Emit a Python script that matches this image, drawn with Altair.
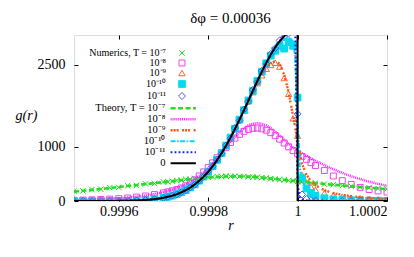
import altair as alt
import pandas as pd

# ---------------- data ----------------
R_NUM = [0.9995, 0.99952, 0.99954, 0.99956, 0.99958, 0.9996, 0.99962, 0.99964, 0.99966, 0.99968, 0.9997,
         0.99971, 0.99972, 0.99973, 0.99974, 0.99975, 0.99976, 0.99977, 0.99978, 0.99979, 0.9998,
         0.99981, 0.99982, 0.99983, 0.99984, 0.99985, 0.99986, 0.99987, 0.99988, 0.99989, 0.9999,
         0.99991, 0.99992, 0.99993, 0.99994, 0.99995, 0.99996, 0.99997, 0.99998, 0.99999,
         1.0,
         1.00001, 1.00002, 1.00003, 1.00004, 1.00006, 1.00008, 1.0001, 1.00012, 1.00014, 1.00016, 1.00018, 1.0002]

NUM_T7 = [180, 185, 210, 215, 245, 250, 280, 285, 315, 320, 350,
          352, 362, 378, 382, 398, 400, 415, 420, 432, 438, 440, 452, 450, 458, 452, 455, 450, 452, 442,
          440, 436, 428, 424, 410, 405, 392, 390, 376, 372,
          358,
          352, 348, 335, 330, 310, 300, 282, 272, 255, 246, 230, 222]
NUM_T8 = [14, 18, 22, 28, 35, 44, 56, 72, 92, 118, 150,
          168, 188, 210, 240, 280, 330, 390, 460, 535, 615, 700, 795, 890, 985, 1075, 1155, 1225, 1280, 1315,
          1335, 1340, 1325, 1300, 1255, 1200, 1135, 1065, 995, 925,
          870,
          820, 765, 705, 650, 560, 460, 375, 305, 250, 210, 185, 165]
NUM_T9 = [0, 0, 0, 1, 2, 4, 7, 12, 20, 36, 61,
          79, 100, 127, 161, 202, 250, 308, 376, 452, 540, 642, 756, 880, 1018, 1165, 1325, 1490, 1660, 1835,
          2000, 2165, 2310, 2430, 2500, 2540, 2470, 2260, 1970, 1520,
          1200,
          480, 340, 260, 205, 145, 105, 80, 62, 48, 38, 30, 24]
NUM_T10 = [0, 0, 0, 1, 2, 4, 6, 11, 19, 35, 60,
           78, 99, 126, 160, 200, 248, 306, 373, 450, 538, 640, 755, 880, 1018, 1166, 1328, 1495, 1668, 1848,
           2026, 2205, 2375, 2530, 2670, 2760, 2850, 2800, 2920, 2850,
           1900,
           420, 230, 140, 95, 50, 30, 20, 14, 10, 7, 5, 4]
NUM_T11 = [0, 0, 0, 0, 1, 3, 6, 11, 18, 33, 57,
           75, 100, 122, 160, 195, 250, 300, 375, 445, 540, 630, 760, 870, 1020, 1150, 1340, 1480, 1680, 1830,
           2040, 2190, 2390, 2520, 2700, 2810, 2950, 3010, 3080, 3120,
           1600,
           120, 35, 15, 8, 4, 2, 1, 1, 0, 0, 0, 0]

R_LINE = [0.9995, 0.99951, 0.99952, 0.99953, 0.99954, 0.99955, 0.99956, 0.99957, 0.99958, 0.99959,
          0.9996, 0.99961, 0.99962, 0.99963, 0.99964, 0.99965, 0.99966, 0.99967, 0.99968, 0.99969,
          0.9997, 0.99971, 0.99972, 0.99973, 0.99974, 0.99975, 0.99976, 0.99977, 0.99978, 0.99979,
          0.9998, 0.99981, 0.99982, 0.99983, 0.99984, 0.99985, 0.99986, 0.99987, 0.99988, 0.99989,
          0.9999, 0.99991, 0.99992, 0.99993, 0.99994, 0.99995, 0.99996, 0.99997, 0.99998, 0.99999,
          0.999995, 1.0, 1.0, 1.000005,
          1.00001, 1.00002, 1.00003, 1.00004, 1.00005, 1.00006, 1.00007, 1.00008, 1.00009, 1.0001,
          1.00011, 1.00012, 1.00013, 1.00014, 1.00015, 1.00016, 1.00017, 1.00018, 1.00019, 1.0002]

TH_T7 = [172, 180, 188, 196, 204, 212, 221, 230, 239, 248,
         257, 266, 275, 284, 293, 302, 311, 320, 329, 338,
         347, 356, 365, 374, 383, 392, 401, 409, 417, 424,
         431, 437, 442, 446, 449, 451, 452, 452, 450, 448,
         444, 438, 431, 422, 414, 405, 396, 387, 378, 369,
         365, 361, 361, 357,
         353, 345, 337, 329, 321, 313, 306, 299, 292, 285,
         278, 271, 264, 257, 250, 244, 238, 232, 226, 220]
TH_T8 = [16, 18, 20, 22, 25, 28, 31, 35, 39, 44,
         49, 55, 62, 70, 79, 89, 100, 113, 128, 145,
         164, 186, 210, 238, 270, 305, 345, 395, 455, 525,
         605, 690, 785, 885, 985, 1085, 1180, 1265, 1335, 1390,
         1420, 1430, 1420, 1390, 1340, 1275, 1200, 1125, 1050, 980,
         950, 925, 925, 900,
         875, 830, 785, 740, 700, 660, 620, 585, 550, 515,
         485, 455, 428, 402, 378, 355, 335, 315, 297, 280]
TH_T9 = [0, 0, 0, 0, 0, 1, 1, 2, 2, 3,
         4, 5, 7, 9, 12, 16, 21, 28, 37, 48,
         62, 80, 101, 128, 161, 202, 249, 307, 374, 451,
         539, 640, 754, 879, 1016, 1163, 1322, 1488, 1658, 1833,
         2010, 2175, 2330, 2450, 2530, 2570, 2520, 2320, 2000, 1560,
         1330, 1100, 1100, 880,
         680, 480, 365, 290, 238, 200, 170, 146, 127, 111,
         98, 87, 78, 70, 63, 57, 51, 46, 42, 38]
TH_T10 = [0, 0, 0, 0, 0, 0, 0, 0, 1, 2,
          3, 4, 6, 8, 11, 15, 20, 26, 35, 46,
          60, 78, 99, 126, 159, 200, 247, 305, 372, 449,
          537, 639, 753, 879, 1017, 1165, 1326, 1494, 1667, 1846,
          2024, 2202, 2372, 2530, 2670, 2800, 2900, 2970, 3000, 2930,
          2650, 1500, 1500, 600,
          380, 220, 145, 100, 72, 54, 42, 33, 26, 21,
          17, 14, 11, 9, 8, 7, 6, 5, 4, 4]
TH_T11 = [0, 0, 0, 0, 0, 0, 0, 0, 0, 0,
          3, 4, 5, 7, 10, 14, 19, 25, 34, 45,
          59, 77, 98, 125, 158, 199, 246, 304, 371, 448,
          536, 638, 752, 878, 1016, 1164, 1325, 1493, 1667, 1846,
          2025, 2204, 2376, 2538, 2689, 2823, 2937, 3029, 3097, 3130,
          3100, 300, 300, 70,
          30, 10, 5, 3, 2, 1, 0, 0, 0, 0,
          0, 0, 0, 0, 0, 0, 0, 0, 0, 0]
TH_T0 = [0, 0, 0, 0, 0, 0, 0, 0, 0, 0,
         3, 4, 5, 7, 10, 14, 19, 25, 34, 45,
         59, 77, 98, 125, 158, 199, 246, 304, 371, 448,
         536, 638, 752, 878, 1016, 1164, 1325, 1493, 1667, 1846,
         2025, 2204, 2376, 2538, 2689, 2823, 2937, 3029, 3097, 3139,
         3146, 3150, 0, 0,
         0, 0, 0, 0, 0, 0, 0, 0, 0, 0,
         0, 0, 0, 0, 0, 0, 0, 0, 0, 0]

NUM_LABELS = ["Numerics, T = 10⁻⁷", "10⁻⁸", "10⁻⁹", "10⁻¹⁰", "10⁻¹¹"]
TH_LABELS = ["Theory, T = 10⁻⁷", "10⁻⁸", "10⁻⁹", "10⁻¹⁰", "10⁻¹¹", "0"]
X_TICKS = [0.9996, 0.9998, 1.0, 1.0002]
Y_TICKS = [0, 1000, 2500]

# ---------------- styles ----------------
NUM_STROKE = ["#22dd22", "#ee44ee", "#ff6633", "#00dcee", "#4d5cf0"]
NUM_FILL = ["transparent", "transparent", "transparent", "#00dcee", "transparent"]
NUM_SHAPE = ["M-1,-1L1,1M1,-1L-1,1", "square", "triangle-up", "square", "diamond"]
NUM_SIZE = [30, 50, 36, 16, 28]
TH_STROKE = ["#22dd22", "#ff22ff", "#ff5511", "#00dcee", "#1122ff", "black"]
TH_DASH = [[5, 2.5], [1, 0.9], [2, 1, 2, 1, 2, 3.5], [5, 1.5, 1.5, 1.5], [1.8, 2.2], [1, 0]]
TH_WIDTH = [2.6, 2.0, 2.2, 2.2, 2.2, 1.5]

F = "Liberation Serif"
W, H = 313, 166

num_rows = []
for lab, vals in zip(NUM_LABELS, [NUM_T7, NUM_T8, NUM_T9, NUM_T10, NUM_T11]):
    for r, g in zip(R_NUM, vals):
        num_rows.append({"r": r, "g": g, "series": lab})
df_num = pd.DataFrame(num_rows)

line_rows = []
for lab, vals in zip(TH_LABELS, [TH_T7, TH_T8, TH_T9, TH_T10, TH_T11, TH_T0]):
    for i, (r, g) in enumerate(zip(R_LINE, vals)):
        line_rows.append({"r": r, "g": g, "series": lab, "idx": i})
df_line = pd.DataFrame(line_rows)

xs = alt.Scale(domain=[0.9995, 1.0002], nice=False, zero=False)
ys = alt.Scale(domain=[0, 3050], nice=False, zero=False)

def tick_axis(orient, offset, values):
    return alt.Axis(orient=orient, offset=offset, values=values, labels=False, ticks=True,
                    tickSize=4, tickColor="black", tickWidth=1, domain=False, grid=False)

leg_num = alt.Legend(title=None, orient="none", legendX=103, legendY=13, labelAlign="right",
                     labelOffset={"expr": "-21"}, labelFont=F, labelFontSize=10, labelColor="black",
                     rowPadding=0, padding=0, symbolStrokeWidth=1, labelLimit=200)
leg_th = alt.Legend(title=None, orient="none", legendX=104, legendY=68, labelAlign="right",
                    labelOffset={"expr": "-23"}, labelFont=F, labelFontSize=10.5, labelColor="black",
                    rowPadding=0, padding=0, symbolType="M-8,0L8,0", symbolSize=10,
                    labelLimit=200)

points = alt.Chart(df_num).mark_point(clip=True, opacity=1, strokeWidth=1).encode(
    x=alt.X("r:Q", scale=xs, title="r",
            axis=alt.Axis(values=X_TICKS, format="~g", labelFont=F, labelFontSize=14, labelColor="black",
                          labelPadding=3, ticks=False, tickSize=0, domain=False, grid=False,
                          titleFont=F, titleFontSize=14, titleFontStyle="italic", titleFontWeight="normal",
                          titleColor="black", titleY=24, titleBaseline="middle")),
    y=alt.Y("g:Q", scale=ys, title="g(r)",
            axis=alt.Axis(values=Y_TICKS, format="d", labelFont=F, labelFontSize=14, labelColor="black",
                          labelPadding=9, ticks=False, tickSize=0, domain=False, grid=False,
                          titleFont=F, titleFontSize=14, titleFontStyle="italic", titleFontWeight="normal",
                          titleColor="black", titleAngle=0, titleX=-48, titleY=80,
                          titleAlign="center", titleBaseline="middle")),
    color=alt.Color("series:N", scale=alt.Scale(domain=NUM_LABELS, range=NUM_STROKE), legend=leg_num),
    fill=alt.Fill("series:N", scale=alt.Scale(domain=NUM_LABELS, range=NUM_FILL), legend=leg_num),
    shape=alt.Shape("series:N", scale=alt.Scale(domain=NUM_LABELS, range=NUM_SHAPE), legend=leg_num),
    size=alt.Size("series:N", scale=alt.Scale(domain=NUM_LABELS, range=NUM_SIZE), legend=leg_num),
)

lines = alt.Chart(df_line).mark_line(clip=True).encode(
    x=alt.X("r:Q", scale=xs, title=None, axis=tick_axis("top", -H, X_TICKS)),
    y=alt.Y("g:Q", scale=ys, title=None, axis=tick_axis("right", -W, Y_TICKS)),
    stroke=alt.Stroke("series:N", scale=alt.Scale(domain=TH_LABELS, range=TH_STROKE), legend=leg_th),
    strokeDash=alt.StrokeDash("series:N", scale=alt.Scale(domain=TH_LABELS, range=TH_DASH), legend=leg_th),
    strokeWidth=alt.StrokeWidth("series:N", scale=alt.Scale(domain=TH_LABELS, range=TH_WIDTH), legend=leg_th),
    order=alt.Order("idx:Q"),
)

frame = alt.Chart(df_num).mark_point(opacity=0).encode(
    x=alt.X("r:Q", scale=xs, title=None, axis=tick_axis("bottom", -H, X_TICKS)),
    y=alt.Y("g:Q", scale=ys, title=None, axis=tick_axis("left", -W, Y_TICKS)),
)

chart = alt.layer(points, lines, frame).resolve_axis(
    x="independent", y="independent"
).properties(
    width=W, height=H,
    padding={"left": 7, "top": 3, "right": 5, "bottom": 5},
    title=alt.TitleParams("δφ = 0.00036", font=F, fontSize=15, fontWeight="normal", color="black",
                          anchor="middle", offset=2),
).configure_view(stroke="black", strokeWidth=1).configure(background="white")

chart.save("out.html", embed_options={"renderer": "svg", "actions": False})
